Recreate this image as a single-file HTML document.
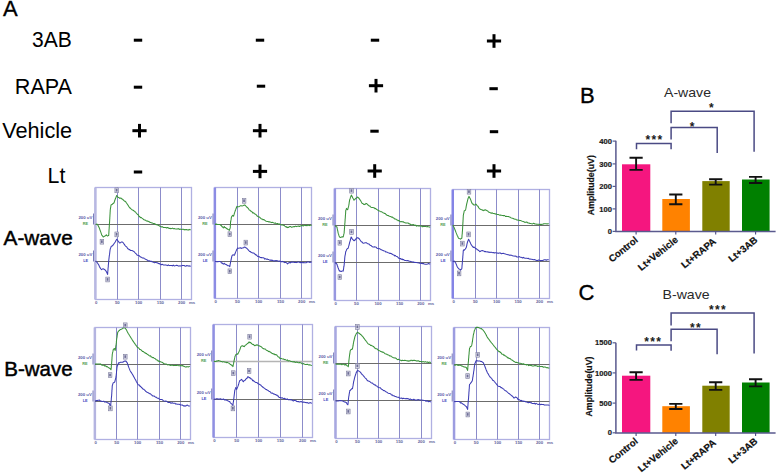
<!DOCTYPE html>
<html><head><meta charset="utf-8"><style>
html,body{margin:0;padding:0;background:#fff;}
svg{display:block;font-family:"Liberation Sans", sans-serif;}
</style></head><body>
<svg width="778" height="474" viewBox="0 0 778 474">
<rect width="778" height="474" fill="#fff"/>
<text x="3.0" y="16.2" font-size="22" stroke="#000" stroke-width="0.35">A</text>
<text x="71.8" y="46.75" font-size="22.6" text-anchor="end" textLength="39.8" lengthAdjust="spacingAndGlyphs">3AB</text>
<text x="72" y="94.2" font-size="22" text-anchor="end" textLength="57.2" lengthAdjust="spacingAndGlyphs">RAPA</text>
<text x="72.2" y="137.6" font-size="22" text-anchor="end" textLength="70" lengthAdjust="spacingAndGlyphs">Vehicle</text>
<text x="65.4" y="182.8" font-size="22" text-anchor="end" textLength="17.8" lengthAdjust="spacingAndGlyphs">Lt</text>
<text x="3.6" y="245.0" font-size="19.8" stroke="#000" stroke-width="0.45" textLength="69.2" lengthAdjust="spacingAndGlyphs">A-wave</text>
<text x="4.3" y="375.6" font-size="19.8" stroke="#000" stroke-width="0.45" textLength="68.4" lengthAdjust="spacingAndGlyphs">B-wave</text>
<rect x="133.80" y="38.70" width="8.4" height="3" fill="#000"/>
<rect x="255.80" y="38.70" width="8.4" height="3" fill="#000"/>
<rect x="370.80" y="38.70" width="8.4" height="3" fill="#000"/>
<rect x="133.80" y="85.70" width="8.4" height="3" fill="#000"/>
<rect x="256.80" y="84.70" width="8.4" height="3" fill="#000"/>
<rect x="489.40" y="87.20" width="8.4" height="3" fill="#000"/>
<rect x="370.30" y="129.70" width="8.4" height="3" fill="#000"/>
<rect x="489.80" y="130.20" width="8.4" height="3" fill="#000"/>
<rect x="133.80" y="170.50" width="8.4" height="3" fill="#000"/>
<rect x="486.90" y="39.50" width="14.2" height="3.0" fill="#000"/><rect x="492.50" y="34.20" width="3.0" height="13.6" fill="#000"/>
<rect x="368.90" y="84.20" width="14.2" height="3.0" fill="#000"/><rect x="374.50" y="78.90" width="3.0" height="13.6" fill="#000"/>
<rect x="132.40" y="129.20" width="14.2" height="3.0" fill="#000"/><rect x="138.00" y="123.90" width="3.0" height="13.6" fill="#000"/>
<rect x="252.90" y="129.20" width="14.2" height="3.0" fill="#000"/><rect x="258.50" y="123.90" width="3.0" height="13.6" fill="#000"/>
<rect x="252.90" y="169.90" width="14.2" height="3.0" fill="#000"/><rect x="258.50" y="164.60" width="3.0" height="13.6" fill="#000"/>
<rect x="367.60" y="169.50" width="14.2" height="3.0" fill="#000"/><rect x="373.20" y="164.20" width="3.0" height="13.6" fill="#000"/>
<rect x="486.90" y="169.50" width="14.2" height="3.0" fill="#000"/><rect x="492.50" y="164.20" width="3.0" height="13.6" fill="#000"/>
<rect x="95.5" y="187.5" width="96.0" height="112.0" fill="none" stroke="#b0b0e2" stroke-width="1.3"/>
<rect x="94.1" y="187.5" width="2.5" height="112.0" fill="#b8b8e2"/>
<line x1="117.5" y1="187.5" x2="117.5" y2="299.5" stroke="#8c8cca" stroke-width="1.0"/>
<line x1="138.5" y1="187.5" x2="138.5" y2="299.5" stroke="#8c8cca" stroke-width="1.0"/>
<line x1="160.5" y1="187.5" x2="160.5" y2="299.5" stroke="#8c8cca" stroke-width="1.0"/>
<line x1="181.5" y1="187.5" x2="181.5" y2="299.5" stroke="#8c8cca" stroke-width="1.0"/>
<line x1="95.5" y1="224.5" x2="191.5" y2="224.5" stroke="#6c6c6c" stroke-width="1"/>
<path d="M93.5,224.5 V213.5" stroke="#5a5aa8" stroke-width="0.8" fill="none"/>
<text x="92.3" y="219.1" font-size="4.3" font-weight="bold" fill="#5a5aa8" text-anchor="end">200 uV</text>
<line x1="95.5" y1="261.5" x2="191.5" y2="261.5" stroke="#6c6c6c" stroke-width="1"/>
<path d="M93.5,261.5 V250.5" stroke="#5a5aa8" stroke-width="0.8" fill="none"/>
<text x="92.3" y="256.1" font-size="4.3" font-weight="bold" fill="#5a5aa8" text-anchor="end">200 uV</text>
<text x="88.2" y="225.0" font-size="3.9" font-weight="bold" fill="#52a052" text-anchor="end">RE</text>
<text x="88.2" y="262.0" font-size="3.9" font-weight="bold" fill="#4848c0" text-anchor="end">LE</text>
<polyline points="95.8,224.0 96.4,224.3 97.1,224.2 97.7,224.9 98.1,225.6 98.5,226.4 98.8,227.1 99.2,227.8 99.5,228.6 99.8,229.3 100.0,230.1 100.3,230.8 100.6,231.6 100.9,232.4 101.1,233.1 101.4,233.9 101.6,234.6 101.9,235.4 102.5,235.7 103.0,236.7 103.6,236.9 104.3,236.3 104.9,236.0 105.4,235.7 105.8,235.5 106.3,234.8 106.9,235.6 107.6,236.0 108.2,235.6 108.7,235.4 108.8,234.5 108.8,233.6 108.9,232.7 108.9,231.9 109.0,231.0 109.0,230.1 109.1,229.2 109.2,228.3 109.2,227.4 109.3,226.5 109.3,225.7 109.4,224.8 109.4,223.9 109.5,223.0 109.6,222.1 109.6,221.2 109.7,220.3 109.7,219.5 109.8,218.6 109.8,217.7 109.9,216.8 109.9,215.9 110.0,215.0 110.0,214.1 110.1,213.2 110.1,212.4 110.2,211.5 110.2,210.6 110.3,209.7 110.4,208.9 110.5,208.1 110.7,207.3 110.8,206.6 110.9,205.8 111.0,205.0 111.5,204.8 112.0,204.6 112.5,204.0 113.2,203.4 113.9,203.1 114.2,202.3 114.4,201.6 114.7,200.8 114.9,200.1 115.2,199.3 115.5,198.5 115.8,197.8 116.1,197.0 116.4,196.3 116.7,195.5 117.2,196.1 117.7,196.8 118.2,197.4 118.9,197.5 119.6,198.3 120.2,198.0 120.9,198.3 121.5,198.3 122.1,199.3 122.8,199.2 123.4,200.2 124.0,200.7 124.7,201.3 125.3,201.2 125.8,201.9 126.2,202.6 126.7,203.3 127.2,204.0 127.7,204.7 128.2,205.4 128.6,206.2 129.1,206.9 129.7,207.7 130.4,208.2 131.0,208.8 131.7,209.4 132.4,210.1 133.1,210.2 133.8,210.7 134.4,211.3 135.0,211.8 135.5,212.0 136.1,212.8 136.7,213.5 137.3,214.3 137.8,214.5 138.4,215.0 138.9,216.2 139.5,216.4 140.1,217.3 140.8,217.8 141.4,217.6 142.0,218.1 142.7,218.6 143.3,219.2 144.1,219.7 144.8,219.9 145.6,220.2 146.3,221.0 147.1,221.1 147.9,221.1 148.7,221.5 149.5,222.0 150.3,222.5 151.1,222.6 151.9,223.0 152.6,223.1 153.4,223.7 154.1,223.5 154.8,223.7 155.5,224.3 156.3,224.8 157.0,224.8 157.8,225.0 158.5,225.5 159.2,225.7 160.0,226.4 160.8,226.6 161.7,227.0 162.5,226.7 163.3,227.5 164.2,227.5 165.0,227.6 165.8,227.5 166.7,228.0 167.5,227.5 168.3,227.8 169.2,228.5 170.0,228.3 170.8,228.7 171.7,228.6 172.5,228.1 173.3,228.7 174.2,228.6 175.0,228.8 175.8,228.9 176.7,229.1 177.5,228.9 178.3,228.6 179.2,229.4 180.0,229.1 180.8,229.2 181.7,229.4 182.5,229.3 183.3,229.2 184.2,229.9 185.0,229.5 185.8,229.8 186.7,229.5 187.5,229.9 188.3,230.1 189.1,229.4 190.0,229.7 190.8,229.8" fill="none" stroke="#3a923a" stroke-width="1.05" stroke-linejoin="round"/>
<polyline points="95.5,261.0 96.2,261.6 96.8,262.0 97.3,262.7 97.8,263.4 98.2,264.1 98.7,264.8 99.0,265.5 99.3,266.2 99.7,267.0 100.0,267.7 100.5,268.3 101.0,269.0 101.5,269.6 102.2,269.1 103.0,268.7 103.7,268.9 104.4,269.6 105.1,269.9 105.7,270.6 106.1,271.2 106.4,271.9 106.8,272.5 107.1,273.1 107.3,273.8 107.6,274.4 107.7,273.5 107.7,272.6 107.8,271.7 107.9,270.8 108.0,269.9 108.0,269.0 108.1,268.1 108.2,267.3 108.3,266.4 108.3,265.5 108.4,264.6 108.5,263.7 108.6,262.8 108.6,261.9 108.7,261.0 108.8,260.1 108.9,259.2 109.0,258.4 109.1,257.5 109.2,256.6 109.3,255.7 109.5,254.9 109.6,254.0 109.7,253.1 109.8,252.2 109.9,251.4 110.0,250.5 110.1,249.6 110.3,248.9 110.5,248.2 110.8,247.5 111.0,246.8 111.5,246.2 112.0,246.1 112.5,245.8 113.0,245.2 113.4,244.5 113.9,243.9 114.3,243.3 114.8,242.6 115.2,242.0 115.6,241.3 116.0,240.6 116.3,239.9 116.7,239.2 117.2,239.8 117.7,240.5 118.2,241.1 118.7,241.7 119.1,242.4 119.6,243.0 120.2,242.9 120.9,242.4 121.5,242.0 122.1,242.1 122.8,242.3 123.4,243.0 123.9,243.7 124.3,244.4 124.8,245.1 125.3,245.8 125.9,246.4 126.6,246.8 127.2,247.7 127.8,248.7 128.5,248.9 129.1,249.6 129.8,249.6 130.5,250.5 131.2,250.5 131.9,250.6 132.6,250.7 133.4,251.2 134.1,251.6 134.8,252.5 135.4,253.1 135.9,253.6 136.5,254.0 137.0,255.0 137.6,255.3 138.4,255.5 139.1,255.6 139.9,256.5 140.6,257.0 141.4,257.2 142.2,257.9 142.9,257.9 143.7,258.0 144.4,258.6 145.2,259.1 146.0,259.4 146.7,259.8 147.5,260.2 148.2,260.8 149.0,261.0 149.8,260.8 150.5,261.4 151.3,261.3 152.0,261.8 152.8,262.0 153.6,262.2 154.5,262.7 155.3,262.5 156.2,262.5 157.0,262.9 157.8,262.8 158.5,263.6 159.2,263.5 160.0,264.2 160.8,264.2 161.7,264.8 162.5,264.3 163.3,264.9 164.2,265.1 165.0,265.0 165.8,264.9 166.7,265.3 167.5,265.6 168.3,264.8 169.2,265.6 170.0,265.4 170.8,265.4 171.7,265.5 172.5,265.9 173.3,265.1 174.2,266.0 175.0,265.8 175.8,265.6 176.7,265.3 177.5,265.4 178.3,266.1 179.2,265.9 180.0,265.8 180.8,265.9 181.7,265.7 182.5,265.4 183.3,265.6 184.2,265.5 185.0,266.1 185.8,266.3 186.6,265.5 187.5,265.8 188.3,266.1 189.1,265.7 190.0,266.2 190.8,266.0" fill="none" stroke="#3c3cb4" stroke-width="1.05" stroke-linejoin="round"/>
<rect x="100.1" y="239.3" width="3.6" height="4.8" fill="#d6d6e6" stroke="#7c7c9c" stroke-width="0.6"/>
<rect x="101.0" y="240.3" width="1.7" height="2.6" fill="#6e6e96"/>
<rect x="114.9" y="187.9" width="3.6" height="4.8" fill="#d6d6e6" stroke="#7c7c9c" stroke-width="0.6"/>
<rect x="115.8" y="188.9" width="1.7" height="2.6" fill="#6e6e96"/>
<rect x="105.8" y="277.1" width="3.6" height="4.8" fill="#d6d6e6" stroke="#7c7c9c" stroke-width="0.6"/>
<rect x="106.7" y="278.1" width="1.7" height="2.6" fill="#6e6e96"/>
<rect x="114.9" y="232.0" width="3.6" height="4.8" fill="#d6d6e6" stroke="#7c7c9c" stroke-width="0.6"/>
<rect x="115.8" y="233.0" width="1.7" height="2.6" fill="#6e6e96"/>
<text x="96.3" y="303.9" font-size="4.3" font-weight="bold" fill="#62629a" text-anchor="middle">0</text>
<text x="117.3" y="303.9" font-size="4.3" font-weight="bold" fill="#62629a" text-anchor="middle">50</text>
<text x="138.6" y="303.9" font-size="4.3" font-weight="bold" fill="#62629a" text-anchor="middle">100</text>
<text x="160.4" y="303.9" font-size="4.3" font-weight="bold" fill="#62629a" text-anchor="middle">150</text>
<text x="181.6" y="303.9" font-size="4.3" font-weight="bold" fill="#62629a" text-anchor="middle">200</text>
<text x="192.0" y="303.9" font-size="4.3" font-weight="bold" fill="#62629a" text-anchor="middle">ms</text>
<rect x="215.0" y="187.5" width="96.5" height="111.0" fill="none" stroke="#b0b0e2" stroke-width="1.3"/>
<rect x="213.6" y="187.5" width="2.5" height="111.0" fill="#8c8ce4"/>
<line x1="237.5" y1="187.5" x2="237.5" y2="298.5" stroke="#8c8cca" stroke-width="1.0"/>
<line x1="258.5" y1="187.5" x2="258.5" y2="298.5" stroke="#8c8cca" stroke-width="1.0"/>
<line x1="280.5" y1="187.5" x2="280.5" y2="298.5" stroke="#8c8cca" stroke-width="1.0"/>
<line x1="301.5" y1="187.5" x2="301.5" y2="298.5" stroke="#8c8cca" stroke-width="1.0"/>
<line x1="215.0" y1="224.5" x2="311.5" y2="224.5" stroke="#6c6c6c" stroke-width="1"/>
<path d="M213.0,224.5 V213.5" stroke="#5a5aa8" stroke-width="0.8" fill="none"/>
<text x="211.8" y="219.1" font-size="4.3" font-weight="bold" fill="#5a5aa8" text-anchor="end">200 uV</text>
<line x1="215.0" y1="261.5" x2="311.5" y2="261.5" stroke="#6c6c6c" stroke-width="1"/>
<path d="M213.0,261.5 V250.5" stroke="#5a5aa8" stroke-width="0.8" fill="none"/>
<text x="211.8" y="256.1" font-size="4.3" font-weight="bold" fill="#5a5aa8" text-anchor="end">200 uV</text>
<text x="207.7" y="224.9" font-size="3.9" font-weight="bold" fill="#52a052" text-anchor="end">RE</text>
<text x="207.7" y="262.1" font-size="3.9" font-weight="bold" fill="#4848c0" text-anchor="end">LE</text>
<polyline points="215.0,224.4 215.8,224.1 216.7,224.1 217.5,224.5 218.3,224.5 219.2,224.4 220.0,224.5 220.6,225.3 221.1,225.3 221.7,226.1 222.3,227.0 222.8,226.9 223.4,227.9 223.9,227.2 224.3,226.6 224.9,227.6 225.6,227.6 226.2,228.1 226.8,228.8 227.4,228.8 228.1,229.6 228.7,229.7 229.3,230.4 229.6,229.6 229.9,228.7 230.2,227.9 230.3,227.1 230.3,226.2 230.4,225.4 230.4,224.5 230.5,223.7 230.5,222.8 230.6,222.0 230.8,221.2 230.9,220.3 231.1,219.4 231.2,218.6 231.3,217.8 231.5,216.9 231.9,216.4 232.3,215.8 232.7,215.3 233.1,215.6 233.6,216.1 233.8,215.3 234.1,214.4 234.3,213.6 234.6,212.7 234.8,211.9 235.1,211.2 235.3,210.5 235.6,209.9 235.8,209.2 236.1,208.5 236.4,207.8 236.6,207.1 236.9,206.4 237.8,206.8 238.6,206.7 239.5,206.4 240.3,205.8 241.2,205.8 242.0,206.0 242.7,205.8 243.4,205.5 244.1,205.1 244.7,205.1 245.2,205.3 245.8,206.0 246.4,206.7 247.0,207.3 247.6,207.7 248.2,208.3 248.8,209.3 249.4,210.1 250.1,210.3 250.7,211.0 251.3,211.5 252.0,211.8 252.7,212.9 253.3,212.8 254.0,213.2 254.7,214.0 255.3,214.1 256.0,214.6 256.6,215.2 257.2,216.1 257.9,216.4 258.5,216.9 259.3,216.9 260.0,217.6 260.8,218.4 261.5,219.0 262.3,219.0 263.0,219.8 263.6,219.6 264.3,219.8 264.9,220.3 265.6,220.9 266.4,221.2 267.2,221.4 268.1,221.6 268.9,221.9 269.7,221.7 270.5,222.1 271.3,222.6 272.1,222.2 272.9,222.4 273.6,222.9 274.4,223.3 275.2,222.9 276.0,223.5 276.8,223.8 277.6,223.5 278.5,224.2 279.3,223.9 280.1,224.5 280.9,224.7 281.7,225.0 282.6,224.7 283.4,225.2 284.2,225.5 284.9,226.1 285.6,226.6 286.2,227.2 286.9,226.8 287.6,227.6 288.3,227.5 289.0,226.9 289.9,226.5 290.7,226.6 291.5,227.3 292.4,226.9 293.2,226.7 294.0,226.6 294.8,226.6 295.5,226.1 296.3,226.6 297.1,226.2 297.9,226.2 298.7,226.0 299.5,226.5 300.4,226.0 301.2,225.6 302.0,225.8 302.8,225.6 303.6,225.9 304.5,225.1 305.3,225.6 306.1,225.3 306.9,225.8 307.7,225.1 308.5,225.2 309.2,225.6 310.0,225.2 310.8,225.2 311.6,225.5" fill="none" stroke="#3a923a" stroke-width="1.05" stroke-linejoin="round"/>
<polyline points="215.0,261.4 215.8,261.6 216.7,261.7 217.6,261.6 218.4,261.6 219.2,261.4 220.1,261.6 220.8,261.7 221.4,262.9 222.1,263.0 222.7,263.5 223.4,264.1 223.9,263.9 224.3,263.3 224.9,264.0 225.6,264.4 226.2,264.4 226.8,265.0 227.6,265.7 228.3,265.7 229.1,265.8 229.8,266.6 229.9,265.8 230.1,265.1 230.2,264.3 230.3,263.5 230.5,262.8 230.6,262.0 230.8,261.2 231.0,260.3 231.2,259.5 231.3,258.6 231.5,257.8 231.7,256.9 231.9,256.1 232.5,255.1 233.1,254.8 233.8,255.1 234.4,255.3 234.7,254.6 234.9,253.9 235.2,253.3 235.4,252.6 235.7,251.9 236.0,251.1 236.4,250.4 236.7,249.6 237.1,248.9 237.4,248.1 238.1,248.3 238.8,248.3 239.5,248.1 240.3,247.7 241.2,248.4 242.0,248.1 242.8,247.9 243.5,247.8 244.2,247.0 245.0,247.2 245.5,247.2 246.1,248.0 246.6,248.1 247.1,248.7 247.6,249.2 248.1,249.7 248.6,250.4 249.1,250.8 249.6,251.5 250.2,251.5 250.8,252.0 251.5,252.6 252.1,252.7 252.8,253.0 253.5,253.0 254.1,253.3 254.8,254.1 255.5,254.4 256.1,255.1 256.7,255.1 257.3,256.1 257.9,256.5 258.5,256.5 259.3,256.7 260.0,257.2 260.8,257.6 261.5,257.6 262.3,257.8 263.1,257.7 264.0,258.0 264.8,259.1 265.7,258.6 266.5,259.3 267.3,259.1 268.0,259.4 268.8,259.6 269.5,260.0 270.3,260.4 271.0,259.9 271.8,260.5 272.6,260.2 273.5,260.9 274.3,261.1 275.1,260.5 276.0,260.9 276.8,260.5 277.6,260.9 278.4,261.3 279.3,261.0 280.1,261.2 280.9,261.5 281.6,261.9 282.4,261.4 283.2,262.0 284.0,261.7 284.7,262.6 285.5,262.5 286.2,262.6 286.9,263.2 287.6,263.9 288.3,263.1 289.0,262.8 289.7,262.5 290.5,262.9 291.2,262.1 292.0,262.1 292.8,262.3 293.6,262.1 294.3,262.4 295.1,262.3 296.0,262.5 296.8,262.6 297.7,262.0 298.6,262.1 299.4,262.3 300.3,262.8 301.1,262.2 302.0,262.5 302.9,262.8 303.7,262.6 304.6,262.8 305.5,262.7 306.4,262.7 307.2,262.0 308.1,262.0 309.0,262.1 309.9,262.5 310.7,262.1 311.6,262.3" fill="none" stroke="#3c3cb4" stroke-width="1.05" stroke-linejoin="round"/>
<rect x="228.0" y="231.8" width="3.6" height="4.8" fill="#d6d6e6" stroke="#7c7c9c" stroke-width="0.6"/>
<rect x="228.9" y="232.8" width="1.7" height="2.6" fill="#6e6e96"/>
<rect x="242.3" y="198.4" width="3.6" height="4.8" fill="#d6d6e6" stroke="#7c7c9c" stroke-width="0.6"/>
<rect x="243.2" y="199.4" width="1.7" height="2.6" fill="#6e6e96"/>
<rect x="228.0" y="268.9" width="3.6" height="4.8" fill="#d6d6e6" stroke="#7c7c9c" stroke-width="0.6"/>
<rect x="228.9" y="269.9" width="1.7" height="2.6" fill="#6e6e96"/>
<rect x="244.0" y="240.2" width="3.6" height="4.8" fill="#d6d6e6" stroke="#7c7c9c" stroke-width="0.6"/>
<rect x="244.9" y="241.2" width="1.7" height="2.6" fill="#6e6e96"/>
<text x="215.8" y="302.9" font-size="4.3" font-weight="bold" fill="#62629a" text-anchor="middle">0</text>
<text x="237.4" y="302.9" font-size="4.3" font-weight="bold" fill="#62629a" text-anchor="middle">50</text>
<text x="258.6" y="302.9" font-size="4.3" font-weight="bold" fill="#62629a" text-anchor="middle">100</text>
<text x="280.5" y="302.9" font-size="4.3" font-weight="bold" fill="#62629a" text-anchor="middle">150</text>
<text x="301.7" y="302.9" font-size="4.3" font-weight="bold" fill="#62629a" text-anchor="middle">200</text>
<text x="312.0" y="302.9" font-size="4.3" font-weight="bold" fill="#62629a" text-anchor="middle">ms</text>
<rect x="335.0" y="188.5" width="95.5" height="112.0" fill="none" stroke="#b0b0e2" stroke-width="1.3"/>
<rect x="333.6" y="188.5" width="2.5" height="112.0" fill="#9898e0"/>
<line x1="356.5" y1="188.5" x2="356.5" y2="300.5" stroke="#8c8cca" stroke-width="1.0"/>
<line x1="378.5" y1="188.5" x2="378.5" y2="300.5" stroke="#8c8cca" stroke-width="1.0"/>
<line x1="399.5" y1="188.5" x2="399.5" y2="300.5" stroke="#8c8cca" stroke-width="1.0"/>
<line x1="420.5" y1="188.5" x2="420.5" y2="300.5" stroke="#8c8cca" stroke-width="1.0"/>
<line x1="335.0" y1="225.5" x2="430.5" y2="225.5" stroke="#6c6c6c" stroke-width="1"/>
<path d="M333.0,225.5 V214.5" stroke="#5a5aa8" stroke-width="0.8" fill="none"/>
<text x="331.8" y="220.1" font-size="4.3" font-weight="bold" fill="#5a5aa8" text-anchor="end">200 uV</text>
<line x1="335.0" y1="262.5" x2="430.5" y2="262.5" stroke="#6c6c6c" stroke-width="1"/>
<path d="M333.0,262.5 V251.5" stroke="#5a5aa8" stroke-width="0.8" fill="none"/>
<text x="331.8" y="257.1" font-size="4.3" font-weight="bold" fill="#5a5aa8" text-anchor="end">200 uV</text>
<text x="327.7" y="226.0" font-size="3.9" font-weight="bold" fill="#52a052" text-anchor="end">RE</text>
<text x="327.7" y="263.1" font-size="3.9" font-weight="bold" fill="#4848c0" text-anchor="end">LE</text>
<polyline points="335.0,225.5 335.6,226.1 336.3,226.8 336.9,226.8 337.1,227.6 337.2,228.4 337.4,229.2 337.5,229.9 337.7,230.7 337.9,231.5 338.0,232.3 338.2,233.1 338.4,233.9 338.7,234.6 338.9,235.4 339.2,236.1 339.4,236.9 340.0,237.3 340.7,237.5 341.5,236.9 342.4,236.7 343.2,236.9 343.4,236.1 343.6,235.4 343.7,234.6 343.9,233.9 344.1,233.1 344.2,232.3 344.2,231.4 344.3,230.6 344.4,229.7 344.4,228.9 344.5,228.1 344.6,227.2 344.6,226.4 344.7,225.5 344.8,224.7 344.8,223.8 344.9,223.0 345.0,222.2 345.0,221.3 345.1,220.5 345.1,219.6 345.2,218.8 345.3,217.9 345.3,217.1 345.4,216.2 345.4,215.4 345.5,214.5 345.6,213.7 345.6,212.8 345.7,212.0 345.7,211.1 345.8,210.3 346.1,209.7 346.3,209.0 346.6,208.4 347.1,209.4 347.7,209.7 347.9,208.9 348.1,208.2 348.3,207.4 348.5,206.7 348.7,205.9 348.8,205.1 349.0,204.3 349.1,203.5 349.2,202.6 349.3,201.8 349.5,201.0 349.6,200.2 349.8,199.4 350.1,198.7 350.3,197.9 350.6,197.2 350.8,196.4 351.1,195.8 351.5,195.1 351.8,195.8 352.1,196.4 352.4,197.0 352.7,197.7 353.0,198.3 353.4,198.9 353.7,199.6 354.0,200.2 354.4,199.6 354.9,199.3 355.3,198.9 355.9,198.3 356.4,198.0 356.9,197.7 357.5,197.0 358.0,197.4 358.5,198.0 359.0,198.3 359.4,198.9 359.9,199.6 360.3,200.2 360.7,200.8 361.1,201.5 361.4,202.1 361.8,202.8 362.2,203.4 362.8,203.4 363.5,204.3 364.1,204.6 364.7,204.2 365.4,204.2 366.0,203.4 366.6,203.6 367.2,204.2 367.9,205.0 368.5,205.3 369.1,205.9 369.8,205.9 370.5,206.9 371.1,207.2 371.9,207.5 372.8,207.5 373.6,207.8 374.2,207.7 374.9,208.6 375.5,208.4 376.1,209.1 376.8,209.4 377.4,209.9 378.0,210.3 378.7,210.8 379.5,210.9 380.2,211.4 380.9,211.8 381.6,211.7 382.4,212.4 383.1,212.8 383.8,213.0 384.6,213.5 385.3,213.5 386.0,214.5 386.7,215.1 387.5,215.4 388.2,215.4 388.9,216.0 389.6,216.2 390.3,216.4 391.1,216.7 391.8,217.3 392.5,217.1 393.2,217.9 393.9,218.0 394.6,218.9 395.3,218.9 396.0,219.2 396.8,220.0 397.5,220.0 398.2,220.8 398.9,220.4 399.6,221.2 400.4,221.7 401.2,221.7 401.9,221.5 402.7,221.9 403.5,221.8 404.3,222.6 405.0,222.7 405.8,223.0 406.6,223.1 407.4,223.0 408.3,223.1 409.1,223.9 409.9,223.8 410.7,224.7 411.6,224.7 412.4,224.8 413.2,224.5 414.1,224.9 414.9,225.5 415.7,225.1 416.5,226.1 417.4,225.6 418.2,226.0 419.0,226.0 419.9,226.1 420.7,226.0 421.5,225.9 422.3,226.8 423.2,226.4 424.0,226.6 424.9,226.5 425.8,226.6 426.7,226.7 427.5,226.6 428.4,226.8 429.3,226.9 430.2,227.2" fill="none" stroke="#3a923a" stroke-width="1.05" stroke-linejoin="round"/>
<polyline points="335.0,262.3 335.6,263.3 336.3,263.2 336.9,264.2 337.2,265.0 337.4,265.7 337.7,266.5 337.9,267.2 338.2,268.0 338.5,268.8 338.8,269.6 339.1,270.3 339.4,271.1 340.0,270.8 340.7,271.5 341.3,271.5 341.9,271.1 342.6,271.0 343.2,271.1 343.3,270.3 343.5,269.5 343.6,268.7 343.7,267.8 343.8,267.0 344.0,266.2 344.1,265.4 344.2,264.5 344.3,263.6 344.3,262.8 344.4,261.9 344.5,261.0 344.6,260.1 344.7,259.2 344.7,258.4 344.8,257.5 344.9,256.6 345.0,255.8 345.2,254.9 345.4,254.1 345.5,253.2 345.6,252.3 345.8,251.5 346.1,250.9 346.4,250.2 346.7,249.6 347.0,249.0 347.4,248.6 347.9,248.5 348.3,247.7 348.5,246.9 348.7,246.0 349.0,245.2 349.2,244.4 349.4,243.5 349.6,242.7 349.8,241.9 350.1,241.1 350.3,240.3 350.5,239.4 350.7,238.6 351.0,237.8 351.2,237.0 351.6,237.6 351.9,238.2 352.3,238.9 352.7,239.5 353.2,239.8 353.7,240.5 354.2,240.8 354.8,239.9 355.3,239.9 355.9,238.9 356.5,238.1 357.2,237.9 357.8,237.6 358.4,238.3 359.1,238.6 359.7,239.5 360.2,240.1 360.6,240.8 361.1,241.4 361.6,242.0 362.2,242.0 362.9,243.1 363.5,243.3 364.3,243.1 365.2,242.8 366.0,242.7 366.6,242.8 367.2,243.5 367.9,243.7 368.5,243.9 369.1,244.0 369.8,245.0 370.4,245.4 371.1,245.5 371.7,246.2 372.5,246.7 373.2,247.0 374.0,247.1 374.7,246.8 375.5,247.1 376.3,247.3 377.1,248.3 377.9,248.5 378.7,248.7 379.4,248.6 380.2,249.0 380.9,249.7 381.6,249.8 382.4,250.3 383.1,250.5 383.8,250.9 384.6,251.1 385.3,251.2 386.0,252.1 386.7,252.0 387.5,252.4 388.2,252.8 389.0,252.9 389.9,253.5 390.7,253.3 391.5,253.7 392.4,254.3 393.2,254.7 393.9,254.9 394.6,255.9 395.3,255.5 396.0,256.1 396.8,256.6 397.5,256.8 398.2,257.8 398.9,258.2 399.6,258.4 400.4,258.4 401.2,259.4 402.0,258.9 402.7,259.7 403.5,259.5 404.3,260.2 405.1,260.5 405.9,260.5 406.7,260.7 407.5,260.6 408.4,260.7 409.2,261.2 410.0,261.2 410.8,261.6 411.6,261.7 412.4,261.9 413.2,261.8 414.0,262.5 414.8,262.3 415.6,262.5 416.4,262.6 417.3,262.8 418.1,262.8 418.9,263.0 419.7,263.3 420.5,263.1 421.3,263.5 422.0,263.3 422.8,263.7 423.6,263.5 424.3,264.1 425.1,264.2 426.0,264.3 426.8,264.2 427.6,264.0 428.5,263.6 429.4,263.9 430.2,263.7" fill="none" stroke="#3c3cb4" stroke-width="1.05" stroke-linejoin="round"/>
<rect x="338.0" y="240.3" width="3.6" height="4.8" fill="#d6d6e6" stroke="#7c7c9c" stroke-width="0.6"/>
<rect x="338.9" y="241.3" width="1.7" height="2.6" fill="#6e6e96"/>
<rect x="349.7" y="188.3" width="3.6" height="4.8" fill="#d6d6e6" stroke="#7c7c9c" stroke-width="0.6"/>
<rect x="350.6" y="189.3" width="1.7" height="2.6" fill="#6e6e96"/>
<rect x="338.0" y="274.7" width="3.6" height="4.8" fill="#d6d6e6" stroke="#7c7c9c" stroke-width="0.6"/>
<rect x="338.9" y="275.7" width="1.7" height="2.6" fill="#6e6e96"/>
<rect x="349.7" y="229.5" width="3.6" height="4.8" fill="#d6d6e6" stroke="#7c7c9c" stroke-width="0.6"/>
<rect x="350.6" y="230.5" width="1.7" height="2.6" fill="#6e6e96"/>
<text x="335.8" y="304.9" font-size="4.3" font-weight="bold" fill="#62629a" text-anchor="middle">0</text>
<text x="356.5" y="304.9" font-size="4.3" font-weight="bold" fill="#62629a" text-anchor="middle">50</text>
<text x="378.0" y="304.9" font-size="4.3" font-weight="bold" fill="#62629a" text-anchor="middle">100</text>
<text x="399.6" y="304.9" font-size="4.3" font-weight="bold" fill="#62629a" text-anchor="middle">150</text>
<text x="420.8" y="304.9" font-size="4.3" font-weight="bold" fill="#62629a" text-anchor="middle">200</text>
<text x="431.0" y="304.9" font-size="4.3" font-weight="bold" fill="#62629a" text-anchor="middle">ms</text>
<rect x="452.9" y="189.5" width="96.6" height="109.0" fill="none" stroke="#b0b0e2" stroke-width="1.3"/>
<rect x="451.5" y="189.5" width="2.5" height="109.0" fill="#8484e6"/>
<line x1="475.5" y1="189.5" x2="475.5" y2="298.5" stroke="#8c8cca" stroke-width="1.0"/>
<line x1="496.5" y1="189.5" x2="496.5" y2="298.5" stroke="#8c8cca" stroke-width="1.0"/>
<line x1="518.5" y1="189.5" x2="518.5" y2="298.5" stroke="#8c8cca" stroke-width="1.0"/>
<line x1="539.5" y1="189.5" x2="539.5" y2="298.5" stroke="#8c8cca" stroke-width="1.0"/>
<line x1="452.9" y1="225.5" x2="549.5" y2="225.5" stroke="#6c6c6c" stroke-width="1"/>
<path d="M450.9,225.5 V214.5" stroke="#5a5aa8" stroke-width="0.8" fill="none"/>
<text x="449.7" y="220.1" font-size="4.3" font-weight="bold" fill="#5a5aa8" text-anchor="end">200 uV</text>
<line x1="452.9" y1="261.5" x2="549.5" y2="261.5" stroke="#6c6c6c" stroke-width="1"/>
<path d="M450.9,261.5 V250.5" stroke="#5a5aa8" stroke-width="0.8" fill="none"/>
<text x="449.7" y="256.1" font-size="4.3" font-weight="bold" fill="#5a5aa8" text-anchor="end">200 uV</text>
<text x="445.6" y="225.9" font-size="3.9" font-weight="bold" fill="#52a052" text-anchor="end">RE</text>
<text x="445.6" y="262.2" font-size="3.9" font-weight="bold" fill="#4848c0" text-anchor="end">LE</text>
<polyline points="452.9,224.9 453.2,225.6 453.5,226.4 453.9,227.1 454.2,227.8 454.5,228.6 454.8,229.3 455.1,230.1 455.4,230.8 455.7,231.6 456.0,232.4 456.3,233.1 456.6,233.9 456.9,234.6 457.2,235.4 457.6,236.1 457.9,236.8 458.2,237.5 458.6,238.2 459.2,238.5 459.9,238.7 460.5,239.2 461.1,238.6 461.8,238.2 461.9,237.4 462.0,236.5 462.0,235.7 462.1,234.8 462.2,234.0 462.3,233.1 462.3,232.3 462.4,231.4 462.5,230.6 462.5,229.7 462.6,228.8 462.6,227.9 462.7,227.0 462.7,226.1 462.8,225.2 462.8,224.3 462.9,223.4 462.9,222.6 463.0,221.7 463.0,220.8 463.1,219.9 463.1,219.0 463.2,218.1 463.2,217.2 463.3,216.3 463.3,215.4 463.5,214.6 463.6,213.8 463.8,213.1 464.0,212.3 464.1,211.5 464.3,210.7 465.0,210.6 465.6,209.7 465.8,208.9 465.9,208.1 466.1,207.3 466.2,206.4 466.4,205.6 466.5,204.8 466.7,204.0 466.9,203.2 467.1,202.4 467.3,201.6 467.5,200.7 467.7,199.9 467.9,199.1 468.1,198.3 468.4,197.7 468.7,197.0 469.0,196.4 469.4,197.1 469.8,197.9 470.1,198.6 470.5,199.3 470.8,200.1 471.1,200.8 471.3,201.6 471.6,202.3 471.9,203.1 472.5,204.1 473.2,204.0 473.8,205.0 474.4,205.1 475.1,204.6 475.7,204.0 476.3,204.4 477.0,205.6 477.6,205.9 478.1,206.6 478.6,207.4 479.0,208.1 479.5,208.8 480.1,209.1 480.8,209.4 481.4,209.7 482.0,209.7 482.7,210.4 483.3,210.7 483.9,210.1 484.6,210.3 485.2,209.7 485.8,209.9 486.5,210.6 487.1,210.7 487.8,211.0 488.5,212.0 489.2,212.2 489.9,212.6 490.7,212.9 491.4,213.3 492.2,212.8 492.9,213.4 493.7,213.5 494.5,213.6 495.2,214.1 496.0,213.8 496.7,214.2 497.5,214.5 498.3,214.5 499.1,214.9 499.9,215.3 500.7,215.1 501.5,215.3 502.3,215.4 503.1,215.6 503.9,215.6 504.6,215.5 505.4,216.5 506.2,216.3 507.0,216.4 507.8,216.4 508.5,216.6 509.3,216.9 510.0,217.1 510.8,217.7 511.6,218.0 512.5,218.2 513.3,218.5 514.2,219.1 515.0,219.2 515.8,219.2 516.6,220.0 517.4,220.1 518.2,220.3 519.0,220.1 519.8,220.6 520.6,220.5 521.4,220.9 522.2,221.3 523.1,221.4 523.9,221.7 524.8,222.4 525.6,222.2 526.5,222.0 527.3,222.3 528.1,223.1 529.0,223.0 529.9,223.4 530.7,223.4 531.6,223.7 532.5,223.9 533.3,223.3 534.2,223.4 535.0,224.1 535.9,224.0 536.8,224.3 537.6,224.2 538.5,224.3 539.4,224.4 540.3,224.2 541.1,224.6 542.0,224.3 542.9,224.2 543.7,223.8 544.5,223.8 545.4,223.8 546.2,223.7 547.1,224.0 547.9,223.7 548.8,223.8" fill="none" stroke="#3a923a" stroke-width="1.05" stroke-linejoin="round"/>
<polyline points="452.9,262.0 453.5,261.2 454.2,261.0 454.7,261.6 455.2,262.3 455.7,262.9 456.0,263.7 456.3,264.4 456.6,265.2 456.9,265.9 457.2,266.7 457.7,267.4 458.1,268.0 458.6,268.7 459.2,269.0 459.9,269.3 460.5,270.2 460.9,269.5 461.4,269.3 461.8,268.7 461.9,267.8 462.0,267.0 462.0,266.1 462.1,265.3 462.2,264.4 462.3,263.6 462.3,262.7 462.4,261.9 462.5,261.0 462.6,260.1 462.6,259.3 462.7,258.4 462.8,257.5 462.8,256.7 462.9,255.8 463.0,254.9 463.0,254.1 463.1,253.2 463.2,252.3 463.2,251.5 463.3,250.6 463.8,249.9 464.3,250.2 464.8,249.6 465.3,249.0 465.7,248.3 466.2,247.7 466.4,246.9 466.6,246.1 466.8,245.3 466.9,244.4 467.1,243.6 467.3,242.8 467.5,242.0 467.8,241.3 468.1,240.6 468.3,239.9 468.6,239.2 469.0,239.9 469.3,240.6 469.6,241.3 470.0,242.0 470.3,242.7 470.6,243.4 471.0,244.2 471.3,244.9 471.8,245.5 472.3,246.2 472.8,246.8 473.4,247.5 474.1,247.0 474.7,247.7 475.3,248.2 476.0,248.7 476.6,248.7 477.2,249.7 477.9,249.7 478.5,250.6 479.1,250.7 479.8,251.6 480.4,251.5 481.0,250.8 481.7,250.7 482.3,250.6 482.9,250.8 483.6,251.1 484.2,251.2 484.9,251.7 485.6,251.4 486.4,251.7 487.1,251.9 487.8,251.7 488.5,252.3 489.2,252.1 489.9,252.5 490.7,252.2 491.4,252.2 492.2,252.6 492.9,252.7 493.7,252.5 494.5,253.0 495.2,252.8 496.0,252.8 496.7,253.0 497.5,253.1 498.3,253.4 499.1,252.9 499.9,253.1 500.7,253.1 501.5,253.8 502.3,253.4 503.1,253.3 503.9,253.5 504.6,253.7 505.4,253.9 506.2,254.3 507.0,254.4 507.8,254.8 508.5,254.7 509.3,255.3 510.0,255.0 510.8,255.3 511.6,255.2 512.5,255.8 513.3,255.9 514.2,256.1 515.0,256.3 515.9,256.0 516.7,256.9 517.6,257.0 518.4,256.9 519.3,256.6 520.1,257.2 521.0,257.3 521.8,257.5 522.7,258.0 523.5,257.4 524.4,258.0 525.2,258.3 526.0,258.2 526.9,258.3 527.7,258.4 528.5,258.3 529.3,259.1 530.2,259.0 531.0,259.3 531.8,259.3 532.6,259.5 533.4,259.7 534.3,259.5 535.1,259.7 535.9,260.3 536.8,260.6 537.6,260.5 538.5,260.0 539.4,260.3 540.3,260.6 541.1,260.6 542.0,260.5 542.9,260.5 543.7,259.9 544.5,259.8 545.4,259.8 546.2,260.2 547.1,259.7 547.9,259.7 548.8,259.8" fill="none" stroke="#3c3cb4" stroke-width="1.05" stroke-linejoin="round"/>
<rect x="460.6" y="241.2" width="3.6" height="4.8" fill="#d6d6e6" stroke="#7c7c9c" stroke-width="0.6"/>
<rect x="461.5" y="242.2" width="1.7" height="2.6" fill="#6e6e96"/>
<rect x="467.2" y="189.3" width="3.6" height="4.8" fill="#d6d6e6" stroke="#7c7c9c" stroke-width="0.6"/>
<rect x="468.1" y="190.3" width="1.7" height="2.6" fill="#6e6e96"/>
<rect x="457.3" y="271.0" width="3.6" height="4.8" fill="#d6d6e6" stroke="#7c7c9c" stroke-width="0.6"/>
<rect x="458.2" y="272.0" width="1.7" height="2.6" fill="#6e6e96"/>
<rect x="466.8" y="232.0" width="3.6" height="4.8" fill="#d6d6e6" stroke="#7c7c9c" stroke-width="0.6"/>
<rect x="467.7" y="233.0" width="1.7" height="2.6" fill="#6e6e96"/>
<text x="453.7" y="302.9" font-size="4.3" font-weight="bold" fill="#62629a" text-anchor="middle">0</text>
<text x="475.3" y="302.9" font-size="4.3" font-weight="bold" fill="#62629a" text-anchor="middle">50</text>
<text x="496.6" y="302.9" font-size="4.3" font-weight="bold" fill="#62629a" text-anchor="middle">100</text>
<text x="518.1" y="302.9" font-size="4.3" font-weight="bold" fill="#62629a" text-anchor="middle">150</text>
<text x="539.5" y="302.9" font-size="4.3" font-weight="bold" fill="#62629a" text-anchor="middle">200</text>
<text x="550.0" y="302.9" font-size="4.3" font-weight="bold" fill="#62629a" text-anchor="middle">ms</text>
<rect x="95.0" y="327.5" width="95.5" height="112.0" fill="none" stroke="#b0b0e2" stroke-width="1.3"/>
<rect x="93.6" y="327.5" width="2.5" height="112.0" fill="#b4b4e0"/>
<line x1="116.5" y1="327.5" x2="116.5" y2="439.5" stroke="#8c8cca" stroke-width="1.0"/>
<line x1="137.5" y1="327.5" x2="137.5" y2="439.5" stroke="#8c8cca" stroke-width="1.0"/>
<line x1="159.5" y1="327.5" x2="159.5" y2="439.5" stroke="#8c8cca" stroke-width="1.0"/>
<line x1="180.5" y1="327.5" x2="180.5" y2="439.5" stroke="#8c8cca" stroke-width="1.0"/>
<line x1="95.0" y1="364.5" x2="190.5" y2="364.5" stroke="#6c6c6c" stroke-width="1"/>
<path d="M93.0,364.5 V353.5" stroke="#5a5aa8" stroke-width="0.8" fill="none"/>
<text x="91.8" y="359.1" font-size="4.3" font-weight="bold" fill="#5a5aa8" text-anchor="end">200 uV</text>
<line x1="95.0" y1="401.5" x2="190.5" y2="401.5" stroke="#6c6c6c" stroke-width="1"/>
<path d="M93.0,401.5 V390.5" stroke="#5a5aa8" stroke-width="0.8" fill="none"/>
<text x="91.8" y="396.1" font-size="4.3" font-weight="bold" fill="#5a5aa8" text-anchor="end">200 uV</text>
<text x="87.7" y="365.2" font-size="3.9" font-weight="bold" fill="#52a052" text-anchor="end">RE</text>
<text x="87.7" y="402.2" font-size="3.9" font-weight="bold" fill="#4848c0" text-anchor="end">LE</text>
<polyline points="95.0,364.1 95.8,364.1 96.5,363.9 97.3,364.1 98.1,363.9 98.8,363.9 99.6,364.1 100.4,363.9 101.1,364.5 101.9,365.2 102.6,365.2 103.4,365.2 104.2,365.3 104.9,366.1 105.7,365.7 106.4,366.6 107.2,366.6 107.9,367.2 108.7,367.6 109.4,368.3 110.1,368.5 110.5,369.1 111.0,369.8 111.1,368.9 111.2,368.1 111.3,367.2 111.3,366.3 111.4,365.4 111.5,364.6 111.6,363.7 111.7,362.8 111.7,362.0 111.8,361.1 111.9,360.2 111.9,359.4 112.0,358.5 112.0,357.7 112.1,356.8 112.2,355.9 112.2,355.1 112.3,354.2 112.5,353.4 112.6,352.6 112.8,351.9 113.0,351.1 113.1,350.3 113.3,349.5 113.8,349.0 114.4,348.5 114.7,349.1 114.9,349.8 115.2,350.4 115.3,349.6 115.5,348.8 115.6,348.0 115.7,347.1 115.8,346.3 116.0,345.5 116.1,344.7 116.2,343.9 116.3,343.1 116.4,342.3 116.4,341.4 116.5,340.6 116.6,339.8 116.7,339.0 116.8,338.2 117.0,337.4 117.1,336.5 117.2,335.7 117.3,334.9 117.5,334.0 117.6,333.2 117.7,332.4 118.1,331.8 118.6,331.1 119.0,330.5 119.5,330.4 120.0,329.7 120.5,329.5 121.1,329.3 121.8,329.0 122.4,328.6 123.2,327.9 123.9,327.9 124.7,327.6 125.2,328.2 125.7,328.9 126.2,329.5 126.6,330.3 127.0,331.0 127.3,331.8 127.7,332.5 128.1,333.3 128.6,334.0 129.1,334.8 129.5,335.5 130.0,336.2 130.4,336.9 130.8,337.5 131.2,338.2 131.7,338.9 132.1,339.6 132.5,340.2 132.9,340.9 133.4,341.6 133.8,342.2 134.3,342.9 134.8,343.6 135.2,344.2 135.7,344.9 136.2,345.6 136.7,346.3 137.1,346.9 137.6,347.6 138.3,347.7 139.0,348.3 139.7,349.5 140.3,349.5 141.0,349.9 141.7,350.5 142.4,351.4 143.1,351.6 143.7,351.8 144.4,352.8 145.1,352.7 145.8,353.5 146.4,353.4 147.1,354.2 147.8,354.6 148.5,355.0 149.2,355.6 149.8,356.0 150.5,355.8 151.2,356.9 151.9,357.1 152.6,357.7 153.4,357.5 154.1,358.1 154.8,358.5 155.5,358.8 156.3,359.8 157.0,360.0 157.6,360.3 158.2,361.2 158.9,360.9 159.5,361.6 160.3,361.6 161.1,362.1 161.9,362.2 162.8,362.7 163.6,363.5 164.4,363.8 165.2,364.0 166.0,363.9 166.8,364.4 167.6,364.9 168.5,364.7 169.3,364.8 170.1,365.4 170.9,365.2 171.7,365.3 172.5,365.1 173.3,365.6 174.2,365.5 175.0,365.5 175.8,365.3 176.6,365.5 177.4,365.1 178.2,365.5 179.0,365.8 179.9,365.8 180.7,365.6 181.5,365.7 182.3,365.5 183.1,366.2 183.8,366.1 184.6,366.6 185.3,366.9 186.1,367.1 186.8,366.6 187.6,366.8 188.3,366.9 189.1,366.6 189.8,366.5" fill="none" stroke="#3a923a" stroke-width="1.05" stroke-linejoin="round"/>
<polyline points="95.0,400.8 95.7,401.0 96.5,400.5 97.2,400.7 98.0,400.3 98.7,400.2 99.5,400.1 100.2,400.9 101.0,401.1 101.7,401.4 102.5,401.4 103.3,401.3 104.0,401.3 104.8,402.1 105.5,401.9 106.3,402.1 107.0,402.5 107.7,402.8 108.4,403.2 109.1,403.3 109.5,404.1 109.8,404.9 110.2,405.7 110.6,406.5 110.7,405.6 110.8,404.8 110.8,403.9 110.9,403.0 111.0,402.1 111.1,401.2 111.2,400.4 111.3,399.5 111.3,398.6 111.4,397.8 111.5,396.9 111.6,396.0 111.7,395.1 111.7,394.3 111.8,393.4 111.8,392.5 111.9,391.7 111.9,390.8 112.0,389.9 112.1,389.1 112.1,388.2 112.2,387.3 112.2,386.5 112.3,385.6 112.5,384.9 112.8,384.1 113.0,383.4 113.3,382.7 114.0,382.6 114.8,381.8 115.0,381.0 115.2,380.2 115.4,379.4 115.6,378.6 115.8,377.8 116.0,377.0 116.1,376.1 116.2,375.3 116.3,374.4 116.4,373.5 116.5,372.7 116.5,371.8 116.6,370.9 116.7,370.1 116.8,369.2 116.9,368.3 117.0,367.5 117.1,366.6 117.4,365.8 117.7,365.1 118.0,364.3 118.3,363.6 118.6,362.8 119.2,362.9 119.9,362.6 120.5,362.2 121.2,362.2 122.0,362.2 122.7,362.3 123.4,361.8 124.2,361.1 125.0,361.2 125.8,360.9 126.3,361.5 126.7,362.2 127.2,362.8 127.5,363.6 127.7,364.3 128.0,365.1 128.2,365.8 128.5,366.6 128.8,367.4 129.1,368.1 129.4,368.9 129.7,369.6 130.0,370.4 130.4,371.1 130.8,371.7 131.2,372.4 131.7,373.1 132.1,373.8 132.5,374.4 132.9,375.1 133.3,375.9 133.8,376.7 134.2,377.4 134.6,378.2 135.0,379.0 135.5,379.8 135.9,380.6 136.3,381.4 136.7,382.1 137.2,382.9 137.6,383.7 138.2,384.7 138.8,384.9 139.4,385.0 140.0,386.4 140.6,386.3 141.2,387.3 141.8,387.7 142.4,388.4 143.1,389.2 143.7,389.2 144.4,389.9 145.1,390.5 145.8,391.5 146.4,391.7 147.1,392.2 147.8,392.4 148.5,393.0 149.2,393.3 149.8,393.8 150.5,393.8 151.2,394.7 151.9,395.1 152.6,395.9 153.4,396.1 154.1,396.0 154.8,396.6 155.5,397.2 156.3,397.2 157.0,397.9 157.8,398.2 158.6,398.3 159.4,399.2 160.2,399.4 160.9,399.5 161.7,399.6 162.5,399.8 163.3,400.6 164.1,401.0 164.9,401.2 165.7,401.0 166.6,401.3 167.4,401.9 168.2,402.5 169.0,402.5 169.8,402.2 170.7,403.1 171.5,403.1 172.4,402.7 173.2,403.3 174.1,403.2 174.9,403.2 175.8,404.1 176.6,403.9 177.4,404.2 178.2,404.3 179.0,404.3 179.9,404.5 180.7,405.0 181.5,405.0 182.3,405.0 183.0,405.5 183.7,406.0 184.4,405.7 185.1,406.3 185.7,405.7 186.4,405.8 187.0,405.0 187.7,405.3 188.4,405.9 189.1,405.9 189.8,406.3" fill="none" stroke="#3c3cb4" stroke-width="1.05" stroke-linejoin="round"/>
<rect x="108.3" y="372.7" width="3.6" height="4.8" fill="#d6d6e6" stroke="#7c7c9c" stroke-width="0.6"/>
<rect x="109.2" y="373.7" width="1.7" height="2.6" fill="#6e6e96"/>
<rect x="123.5" y="322.9" width="3.6" height="4.8" fill="#d6d6e6" stroke="#7c7c9c" stroke-width="0.6"/>
<rect x="124.4" y="323.9" width="1.7" height="2.6" fill="#6e6e96"/>
<rect x="108.6" y="406.0" width="3.6" height="4.8" fill="#d6d6e6" stroke="#7c7c9c" stroke-width="0.6"/>
<rect x="109.5" y="407.0" width="1.7" height="2.6" fill="#6e6e96"/>
<rect x="123.5" y="354.3" width="3.6" height="4.8" fill="#d6d6e6" stroke="#7c7c9c" stroke-width="0.6"/>
<rect x="124.4" y="355.3" width="1.7" height="2.6" fill="#6e6e96"/>
<text x="95.8" y="443.9" font-size="4.3" font-weight="bold" fill="#62629a" text-anchor="middle">0</text>
<text x="116.7" y="443.9" font-size="4.3" font-weight="bold" fill="#62629a" text-anchor="middle">50</text>
<text x="137.6" y="443.9" font-size="4.3" font-weight="bold" fill="#62629a" text-anchor="middle">100</text>
<text x="159.5" y="443.9" font-size="4.3" font-weight="bold" fill="#62629a" text-anchor="middle">150</text>
<text x="180.8" y="443.9" font-size="4.3" font-weight="bold" fill="#62629a" text-anchor="middle">200</text>
<text x="191.0" y="443.9" font-size="4.3" font-weight="bold" fill="#62629a" text-anchor="middle">ms</text>
<rect x="213.7" y="324.5" width="98.8" height="113.0" fill="none" stroke="#b0b0e2" stroke-width="1.3"/>
<rect x="212.3" y="324.5" width="2.5" height="113.0" fill="#9090e2"/>
<line x1="236.5" y1="324.5" x2="236.5" y2="437.5" stroke="#8c8cca" stroke-width="1.0"/>
<line x1="258.5" y1="324.5" x2="258.5" y2="437.5" stroke="#8c8cca" stroke-width="1.0"/>
<line x1="280.5" y1="324.5" x2="280.5" y2="437.5" stroke="#8c8cca" stroke-width="1.0"/>
<line x1="302.5" y1="324.5" x2="302.5" y2="437.5" stroke="#8c8cca" stroke-width="1.0"/>
<line x1="213.7" y1="361.5" x2="312.5" y2="361.5" stroke="#b4b4b4" stroke-width="1.6"/>
<path d="M211.7,361.5 V350.5" stroke="#5a5aa8" stroke-width="0.8" fill="none"/>
<text x="210.5" y="356.1" font-size="4.3" font-weight="bold" fill="#5a5aa8" text-anchor="end">200 uV</text>
<line x1="213.7" y1="399.5" x2="312.5" y2="399.5" stroke="#6c6c6c" stroke-width="1"/>
<path d="M211.7,399.5 V388.5" stroke="#5a5aa8" stroke-width="0.8" fill="none"/>
<text x="210.5" y="394.1" font-size="4.3" font-weight="bold" fill="#5a5aa8" text-anchor="end">200 uV</text>
<text x="206.4" y="362.0" font-size="3.9" font-weight="bold" fill="#52a052" text-anchor="end">RE</text>
<text x="206.4" y="399.9" font-size="3.9" font-weight="bold" fill="#4848c0" text-anchor="end">LE</text>
<polyline points="213.9,361.4 214.7,361.2 215.4,361.4 216.2,361.4 216.9,360.8 217.7,360.9 218.5,360.6 219.2,360.8 220.0,360.9 220.7,361.4 221.5,361.4 222.3,361.9 223.0,361.7 223.8,361.8 224.5,361.9 225.3,362.2 226.1,362.3 226.8,362.8 227.6,362.4 228.3,362.9 229.1,363.3 229.7,363.9 230.3,364.2 231.0,364.7 231.6,365.2 232.0,365.7 232.5,365.7 232.9,366.6 233.1,365.8 233.2,365.0 233.4,364.2 233.6,363.4 233.7,362.6 233.9,361.8 234.1,361.0 234.2,360.2 234.4,359.5 234.5,358.7 234.7,357.9 234.8,357.1 235.1,356.3 235.5,355.4 235.8,354.6 236.4,354.2 237.1,353.9 237.7,354.2 238.1,353.4 238.5,352.7 238.8,351.9 239.2,351.2 239.6,350.4 239.9,349.6 240.1,348.9 240.4,348.1 240.6,347.4 240.9,346.6 241.7,345.9 242.4,345.7 243.0,345.9 243.7,346.5 244.3,346.6 244.9,345.7 245.6,345.0 246.2,344.7 246.8,344.2 247.4,343.5 247.9,343.4 248.5,342.7 249.1,341.9 249.8,342.8 250.5,342.4 251.2,343.3 251.9,343.8 252.6,344.5 253.4,344.4 254.1,345.3 254.8,345.7 255.5,345.2 256.2,345.3 256.9,344.8 257.6,345.1 258.3,345.7 259.1,345.7 259.8,346.0 260.5,346.6 261.2,346.7 261.9,347.4 262.6,348.3 263.3,348.5 264.1,349.0 264.8,348.9 265.6,349.3 266.3,350.3 267.1,350.4 267.8,350.9 268.5,351.6 269.2,351.3 269.8,351.9 270.5,352.1 271.2,352.8 271.9,353.3 272.6,353.5 273.4,354.1 274.1,353.8 274.8,354.8 275.5,354.5 276.3,354.7 277.0,355.2 277.5,356.0 278.0,356.7 278.5,356.9 279.0,357.1 279.5,358.0 280.3,358.5 281.1,358.4 281.9,358.8 282.7,358.9 283.5,358.9 284.2,359.8 285.0,359.4 285.8,359.9 286.6,360.2 287.4,359.9 288.2,361.0 289.0,360.8 289.9,360.8 290.7,361.4 291.6,361.4 292.5,361.7 293.3,362.0 294.2,361.5 295.0,362.4 295.9,362.2 296.8,362.0 297.6,362.5 298.5,362.7 299.4,362.5 300.2,362.8 301.1,362.8 302.0,363.7 302.8,364.0 303.7,363.6 304.5,364.2 305.4,364.4 306.3,364.4 307.1,364.3 308.0,364.6 308.8,365.0 309.6,364.7 310.3,364.9 311.1,365.3 311.9,365.5" fill="none" stroke="#3a923a" stroke-width="1.05" stroke-linejoin="round"/>
<polyline points="213.9,398.9 214.7,399.3 215.5,399.3 216.3,398.7 217.2,398.8 218.0,399.1 218.8,399.1 219.6,398.9 220.4,398.8 221.2,399.1 222.0,399.6 222.9,399.1 223.7,399.1 224.5,400.0 225.3,399.8 226.1,400.1 226.8,400.1 227.6,400.7 228.3,401.1 229.1,401.4 229.7,401.5 230.3,402.8 231.0,403.4 231.6,403.7 232.0,404.3 232.5,404.9 232.9,405.5 233.0,404.7 233.1,403.8 233.2,403.0 233.3,402.1 233.5,401.3 233.6,400.4 233.7,399.6 233.8,398.7 233.9,397.9 234.0,397.1 234.1,396.2 234.2,395.4 234.3,394.5 234.4,393.7 234.5,392.8 234.6,392.0 234.7,391.1 234.8,390.3 235.1,389.6 235.3,388.9 235.6,388.2 235.8,387.5 236.1,388.1 236.4,388.8 236.7,389.4 237.0,388.6 237.3,387.9 237.6,387.1 237.9,386.4 238.2,385.6 238.4,384.8 238.7,384.0 238.9,383.2 239.1,382.4 239.4,381.6 239.6,380.8 240.2,380.5 240.9,379.8 241.5,379.3 242.0,379.9 242.4,380.6 242.9,381.2 243.4,381.8 244.0,380.8 244.7,380.6 245.3,379.9 245.9,379.1 246.4,378.5 247.0,378.4 247.5,377.0 248.1,376.7 248.7,377.1 249.3,377.9 249.8,377.6 250.4,378.1 251.0,378.9 251.6,378.9 252.1,379.5 252.7,380.7 253.2,380.4 253.8,381.2 254.5,381.2 255.2,382.2 256.0,382.4 256.7,382.4 257.4,383.0 258.1,383.8 258.8,383.7 259.5,384.6 260.1,384.8 260.8,385.1 261.4,385.9 262.0,386.5 262.7,387.0 263.3,387.5 263.9,387.9 264.6,388.2 265.2,388.9 265.8,389.5 266.5,389.5 267.1,390.0 267.8,390.4 268.5,390.8 269.2,391.5 269.8,391.6 270.5,392.0 271.2,393.1 271.9,393.2 272.6,393.0 273.4,394.0 274.1,393.8 274.8,394.5 275.5,394.5 276.3,395.1 277.0,395.1 277.6,396.0 278.2,395.9 278.9,397.2 279.5,397.4 280.4,397.5 281.2,398.0 282.1,397.8 283.0,398.3 283.8,398.4 284.7,398.3 285.5,399.0 286.4,399.5 287.3,398.9 288.1,399.7 289.0,399.7 289.9,399.5 290.7,399.9 291.6,399.8 292.5,400.4 293.3,401.0 294.2,400.4 295.0,400.5 295.9,400.7 296.8,401.5 297.6,401.6 298.5,401.6 299.4,402.0 300.2,401.8 301.1,401.6 302.0,402.0 302.8,402.3 303.7,402.1 304.5,402.2 305.4,402.5 306.3,402.8 307.1,402.5 308.0,402.9 308.8,403.4 309.6,402.8 310.3,402.6 311.1,403.2 311.9,403.1" fill="none" stroke="#3c3cb4" stroke-width="1.05" stroke-linejoin="round"/>
<rect x="231.5" y="370.8" width="3.6" height="4.8" fill="#d6d6e6" stroke="#7c7c9c" stroke-width="0.6"/>
<rect x="232.4" y="371.8" width="1.7" height="2.6" fill="#6e6e96"/>
<rect x="247.8" y="334.3" width="3.6" height="4.8" fill="#d6d6e6" stroke="#7c7c9c" stroke-width="0.6"/>
<rect x="248.7" y="335.3" width="1.7" height="2.6" fill="#6e6e96"/>
<rect x="231.1" y="406.0" width="3.6" height="4.8" fill="#d6d6e6" stroke="#7c7c9c" stroke-width="0.6"/>
<rect x="232.0" y="407.0" width="1.7" height="2.6" fill="#6e6e96"/>
<rect x="247.3" y="368.6" width="3.6" height="4.8" fill="#d6d6e6" stroke="#7c7c9c" stroke-width="0.6"/>
<rect x="248.2" y="369.6" width="1.7" height="2.6" fill="#6e6e96"/>
<text x="214.5" y="441.9" font-size="4.3" font-weight="bold" fill="#62629a" text-anchor="middle">0</text>
<text x="236.7" y="441.9" font-size="4.3" font-weight="bold" fill="#62629a" text-anchor="middle">50</text>
<text x="258.6" y="441.9" font-size="4.3" font-weight="bold" fill="#62629a" text-anchor="middle">100</text>
<text x="280.4" y="441.9" font-size="4.3" font-weight="bold" fill="#62629a" text-anchor="middle">150</text>
<text x="302.6" y="441.9" font-size="4.3" font-weight="bold" fill="#62629a" text-anchor="middle">200</text>
<text x="313.0" y="441.9" font-size="4.3" font-weight="bold" fill="#62629a" text-anchor="middle">ms</text>
<rect x="335.6" y="326.5" width="95.9" height="112.0" fill="none" stroke="#b0b0e2" stroke-width="1.3"/>
<rect x="334.2" y="326.5" width="2.5" height="112.0" fill="#a8a8e0"/>
<line x1="357.5" y1="326.5" x2="357.5" y2="438.5" stroke="#8c8cca" stroke-width="1.0"/>
<line x1="378.5" y1="326.5" x2="378.5" y2="438.5" stroke="#8c8cca" stroke-width="1.0"/>
<line x1="399.5" y1="326.5" x2="399.5" y2="438.5" stroke="#8c8cca" stroke-width="1.0"/>
<line x1="421.5" y1="326.5" x2="421.5" y2="438.5" stroke="#8c8cca" stroke-width="1.0"/>
<line x1="335.6" y1="363.5" x2="431.5" y2="363.5" stroke="#6c6c6c" stroke-width="1"/>
<path d="M333.6,363.5 V352.5" stroke="#5a5aa8" stroke-width="0.8" fill="none"/>
<text x="332.4" y="358.1" font-size="4.3" font-weight="bold" fill="#5a5aa8" text-anchor="end">200 uV</text>
<line x1="335.6" y1="400.5" x2="431.5" y2="400.5" stroke="#6c6c6c" stroke-width="1"/>
<path d="M333.6,400.5 V389.5" stroke="#5a5aa8" stroke-width="0.8" fill="none"/>
<text x="332.4" y="395.1" font-size="4.3" font-weight="bold" fill="#5a5aa8" text-anchor="end">200 uV</text>
<text x="328.3" y="364.0" font-size="3.9" font-weight="bold" fill="#52a052" text-anchor="end">RE</text>
<text x="328.3" y="401.3" font-size="3.9" font-weight="bold" fill="#4848c0" text-anchor="end">LE</text>
<polyline points="335.6,364.0 336.5,364.2 337.4,364.0 338.2,364.2 339.1,364.1 340.0,364.3 340.9,363.9 341.7,364.7 342.6,364.4 343.4,364.1 344.1,364.4 344.9,365.1 345.6,364.4 346.4,364.9 347.0,365.8 347.7,365.9 348.3,366.8 348.4,365.9 348.5,365.1 348.6,364.2 348.7,363.3 348.8,362.5 348.8,361.6 348.9,360.8 349.0,359.9 349.1,359.0 349.2,358.2 349.3,357.3 349.4,356.5 349.5,355.6 349.6,354.8 349.8,354.0 349.9,353.2 350.0,352.4 350.1,351.5 350.2,350.7 350.7,350.0 351.2,349.3 351.9,349.4 352.5,348.8 352.6,348.0 352.8,347.1 352.9,346.3 353.1,345.5 353.2,344.6 353.3,343.8 353.5,342.9 353.6,342.1 353.8,341.3 354.0,340.5 354.2,339.7 354.4,338.8 354.6,338.0 354.8,337.2 355.0,336.4 355.3,335.7 355.6,335.0 356.0,334.3 356.3,333.6 356.9,332.9 357.4,332.2 358.2,332.6 358.9,333.3 359.7,333.6 360.3,334.4 360.9,334.6 361.4,335.2 362.0,335.8 362.6,336.4 363.1,337.0 363.5,337.7 364.0,338.3 364.5,338.9 364.9,339.6 365.4,340.2 365.9,340.8 366.4,341.5 366.9,342.1 367.3,342.7 367.8,343.4 368.3,344.0 369.1,344.2 369.8,344.5 370.6,345.5 371.3,345.3 372.1,345.9 372.7,346.1 373.4,346.5 374.0,347.0 374.6,347.9 375.3,348.2 375.9,348.8 376.7,348.8 377.4,349.2 378.2,350.2 378.9,350.5 379.7,350.7 380.5,351.5 381.3,351.5 382.0,352.2 382.8,351.9 383.6,352.4 384.4,353.1 385.2,353.8 386.0,353.9 386.8,354.2 387.6,354.7 388.4,355.0 389.2,355.4 390.0,356.1 390.8,355.9 391.5,356.6 392.3,357.1 393.1,357.7 393.9,357.7 394.7,358.0 395.4,357.9 396.2,358.5 396.9,359.1 397.7,359.7 398.5,359.2 399.2,359.6 400.0,360.2 400.8,360.2 401.6,360.7 402.5,360.2 403.3,360.4 404.1,360.5 404.9,360.2 405.7,360.6 406.5,360.8 407.4,360.7 408.2,361.2 409.0,360.8 409.8,361.0 410.6,360.3 411.4,360.3 412.3,360.8 413.1,360.2 413.9,360.5 414.7,360.2 415.5,360.6 416.3,360.9 417.1,360.8 418.0,361.0 418.8,360.8 419.6,361.6 420.4,361.4 421.2,361.5 422.0,362.0 422.8,361.6 423.7,361.7 424.5,362.1 425.3,361.6 426.1,362.1 426.9,362.2 427.7,361.9 428.5,362.6 429.2,362.1 430.0,362.2 430.8,362.7" fill="none" stroke="#3a923a" stroke-width="1.05" stroke-linejoin="round"/>
<polyline points="335.6,400.7 336.5,401.1 337.4,401.0 338.2,400.9 339.1,400.7 340.0,400.6 340.9,400.6 341.7,400.8 342.6,401.0 343.3,401.2 344.1,401.8 344.8,402.1 345.5,402.0 346.0,402.6 346.5,402.8 346.9,403.7 347.4,404.4 347.9,404.8 348.0,404.0 348.1,403.1 348.2,402.3 348.3,401.4 348.3,400.6 348.4,399.7 348.5,398.9 348.6,398.0 348.7,397.2 348.8,396.4 349.0,395.6 349.1,394.7 349.2,393.9 349.4,393.1 349.5,392.2 349.7,391.4 349.8,390.6 350.3,390.4 350.7,389.8 351.2,389.3 351.9,388.6 352.5,388.7 352.6,387.9 352.8,387.0 352.9,386.2 353.1,385.4 353.2,384.5 353.3,383.7 353.5,382.8 353.6,382.0 353.8,381.2 354.0,380.4 354.2,379.6 354.4,378.7 354.6,377.9 354.8,377.1 355.0,376.3 355.3,375.5 355.5,374.8 355.8,374.0 356.0,373.3 356.3,372.5 356.7,371.9 357.0,371.2 357.4,370.6 358.2,370.8 358.9,371.1 359.7,371.6 360.3,372.1 360.9,372.8 361.4,373.6 362.0,374.4 362.6,374.8 363.2,375.5 363.7,376.2 364.3,376.8 364.8,377.5 365.4,378.2 366.0,378.4 366.6,379.5 367.1,380.3 367.7,380.7 368.3,381.1 369.1,381.3 369.8,381.5 370.6,382.4 371.3,382.9 372.1,383.0 372.7,383.3 373.4,384.2 374.0,384.3 374.6,385.0 375.3,384.9 375.9,385.8 376.7,385.9 377.4,386.6 378.2,387.3 378.9,387.6 379.7,387.7 380.4,387.7 381.0,388.8 381.7,389.3 382.4,389.6 383.1,390.2 383.7,390.6 384.4,390.6 385.1,391.1 385.8,391.7 386.5,392.0 387.1,392.4 387.8,392.9 388.5,393.2 389.2,393.4 390.0,393.6 390.8,394.0 391.5,395.0 392.3,394.9 393.1,395.8 393.9,395.7 394.7,396.2 395.4,396.6 396.2,396.7 396.9,397.0 397.7,397.2 398.5,397.2 399.2,397.7 400.0,398.2 400.9,398.3 401.7,398.0 402.6,398.8 403.5,398.2 404.3,398.5 405.2,398.7 406.1,398.4 406.9,398.8 407.8,398.5 408.7,399.1 409.5,399.4 410.4,399.0 411.2,399.6 412.1,399.8 413.0,399.7 413.8,399.2 414.7,399.7 415.5,400.1 416.4,399.9 417.2,399.9 418.1,399.5 418.9,399.7 419.8,400.0 420.6,399.9 421.5,399.9 422.3,400.1 423.2,400.2 424.0,400.4 424.9,400.4 425.7,401.1 426.6,401.1 427.4,400.8 428.2,401.7 429.1,401.5 429.9,401.5 430.8,402.0" fill="none" stroke="#3c3cb4" stroke-width="1.05" stroke-linejoin="round"/>
<rect x="346.5" y="371.1" width="3.6" height="4.8" fill="#d6d6e6" stroke="#7c7c9c" stroke-width="0.6"/>
<rect x="347.4" y="372.1" width="1.7" height="2.6" fill="#6e6e96"/>
<rect x="355.6" y="324.5" width="3.6" height="4.8" fill="#d6d6e6" stroke="#7c7c9c" stroke-width="0.6"/>
<rect x="356.5" y="325.5" width="1.7" height="2.6" fill="#6e6e96"/>
<rect x="346.5" y="409.1" width="3.6" height="4.8" fill="#d6d6e6" stroke="#7c7c9c" stroke-width="0.6"/>
<rect x="347.4" y="410.1" width="1.7" height="2.6" fill="#6e6e96"/>
<rect x="355.6" y="363.5" width="3.6" height="4.8" fill="#d6d6e6" stroke="#7c7c9c" stroke-width="0.6"/>
<rect x="356.5" y="364.5" width="1.7" height="2.6" fill="#6e6e96"/>
<text x="336.4" y="442.9" font-size="4.3" font-weight="bold" fill="#62629a" text-anchor="middle">0</text>
<text x="357.5" y="442.9" font-size="4.3" font-weight="bold" fill="#62629a" text-anchor="middle">50</text>
<text x="378.6" y="442.9" font-size="4.3" font-weight="bold" fill="#62629a" text-anchor="middle">100</text>
<text x="399.4" y="442.9" font-size="4.3" font-weight="bold" fill="#62629a" text-anchor="middle">150</text>
<text x="421.3" y="442.9" font-size="4.3" font-weight="bold" fill="#62629a" text-anchor="middle">200</text>
<text x="432.0" y="442.9" font-size="4.3" font-weight="bold" fill="#62629a" text-anchor="middle">ms</text>
<rect x="454.2" y="327.5" width="95.3" height="112.0" fill="none" stroke="#b0b0e2" stroke-width="1.3"/>
<rect x="452.8" y="327.5" width="2.5" height="112.0" fill="#9c9ce0"/>
<line x1="476.5" y1="327.5" x2="476.5" y2="439.5" stroke="#8c8cca" stroke-width="1.0"/>
<line x1="497.5" y1="327.5" x2="497.5" y2="439.5" stroke="#8c8cca" stroke-width="1.0"/>
<line x1="518.5" y1="327.5" x2="518.5" y2="439.5" stroke="#8c8cca" stroke-width="1.0"/>
<line x1="539.5" y1="327.5" x2="539.5" y2="439.5" stroke="#8c8cca" stroke-width="1.0"/>
<line x1="454.2" y1="364.5" x2="549.5" y2="364.5" stroke="#6c6c6c" stroke-width="1"/>
<path d="M452.2,364.5 V353.5" stroke="#5a5aa8" stroke-width="0.8" fill="none"/>
<text x="451.0" y="359.1" font-size="4.3" font-weight="bold" fill="#5a5aa8" text-anchor="end">200 uV</text>
<line x1="454.2" y1="401.5" x2="549.5" y2="401.5" stroke="#6c6c6c" stroke-width="1"/>
<path d="M452.2,401.5 V390.5" stroke="#5a5aa8" stroke-width="0.8" fill="none"/>
<text x="451.0" y="396.1" font-size="4.3" font-weight="bold" fill="#5a5aa8" text-anchor="end">200 uV</text>
<text x="446.9" y="364.9" font-size="3.9" font-weight="bold" fill="#52a052" text-anchor="end">RE</text>
<text x="446.9" y="402.0" font-size="3.9" font-weight="bold" fill="#4848c0" text-anchor="end">LE</text>
<polyline points="454.2,364.7 455.0,365.2 455.7,365.0 456.5,364.5 457.3,364.9 458.1,365.5 458.8,365.0 459.6,365.2 460.4,365.3 461.1,365.6 461.9,366.2 462.6,366.1 463.4,366.6 464.1,367.1 464.9,366.9 465.6,367.2 466.3,367.5 466.6,368.2 467.0,368.9 467.3,369.7 467.6,370.4 467.7,369.5 467.8,368.6 467.8,367.7 467.9,366.9 468.0,366.0 468.1,365.1 468.1,364.2 468.2,363.3 468.3,362.4 468.4,361.5 468.5,360.7 468.5,359.8 468.6,358.9 468.7,358.0 468.8,357.1 468.8,356.3 468.9,355.4 469.0,354.5 469.1,353.7 469.1,352.8 469.2,352.0 469.3,351.1 469.4,350.2 469.4,349.4 469.5,348.5 469.8,347.9 470.1,347.2 470.4,346.6 471.0,346.5 471.6,345.7 471.8,344.9 471.9,344.1 472.1,343.3 472.2,342.5 472.4,341.7 472.5,340.9 472.6,340.1 472.7,339.3 472.8,338.5 473.0,337.6 473.1,336.8 473.2,336.0 473.3,335.2 473.5,334.4 473.7,333.6 473.9,332.9 474.0,332.1 474.2,331.3 474.4,330.5 474.8,329.8 475.1,329.1 475.4,328.3 475.8,327.6 476.4,327.3 477.1,327.5 477.7,327.2 478.3,327.4 479.0,327.8 479.6,328.0 480.2,328.4 480.9,328.8 481.5,328.6 482.1,329.4 482.8,329.8 483.4,330.5 483.9,331.2 484.4,331.9 484.8,332.6 485.3,333.3 485.7,334.1 486.1,334.8 486.4,335.6 486.8,336.3 487.2,337.1 487.7,337.7 488.1,338.4 488.6,339.0 489.1,339.6 489.5,340.3 490.0,340.9 490.5,341.6 491.1,342.3 491.6,343.0 492.2,343.6 492.7,344.3 493.3,345.0 493.8,345.7 494.3,346.4 494.9,347.0 495.4,347.7 496.0,348.4 496.5,349.1 497.1,349.7 497.6,350.4 498.3,350.9 499.0,351.8 499.7,351.6 500.3,352.3 501.0,352.8 501.7,353.9 502.4,354.2 503.1,354.3 503.7,355.3 504.4,355.1 505.1,355.9 505.8,356.0 506.4,356.8 507.1,357.1 507.8,357.9 508.5,357.8 509.2,358.6 509.8,358.4 510.5,358.9 511.2,359.8 511.9,359.9 512.6,360.5 513.3,360.9 514.0,361.6 514.7,361.8 515.5,362.4 516.3,362.2 517.0,362.4 517.8,362.7 518.6,363.0 519.4,363.3 520.2,363.3 521.0,363.4 521.8,363.7 522.5,364.3 523.3,363.8 524.1,364.1 524.9,364.6 525.7,364.5 526.5,365.0 527.3,364.5 528.0,364.9 528.8,365.6 529.6,365.1 530.4,365.4 531.2,365.1 532.0,365.9 532.9,366.0 533.7,366.0 534.5,365.6 535.3,365.6 536.1,365.7 537.0,365.9 537.8,366.5 538.6,366.2 539.4,366.1 540.3,366.6 541.1,366.4 541.9,366.6 542.8,366.6 543.6,367.3 544.4,367.0 545.2,367.1 546.1,367.4 546.9,367.9 547.7,367.6 548.6,368.1 549.4,367.9" fill="none" stroke="#3a923a" stroke-width="1.05" stroke-linejoin="round"/>
<polyline points="454.2,401.4 455.0,401.7 455.7,401.5 456.5,401.4 457.3,401.4 458.1,401.4 458.8,401.4 459.6,401.7 460.2,402.5 460.9,403.1 461.5,402.8 462.1,403.5 462.8,403.7 463.4,404.6 464.1,404.7 464.9,405.3 465.6,406.1 466.3,406.5 466.6,407.2 467.0,407.9 467.3,408.7 467.6,409.4 467.7,408.5 467.7,407.6 467.8,406.7 467.9,405.8 468.0,404.9 468.0,404.0 468.1,403.1 468.2,402.3 468.3,401.4 468.3,400.5 468.4,399.6 468.5,398.7 468.6,397.8 468.6,396.9 468.7,396.0 468.8,395.1 468.8,394.2 468.9,393.4 468.9,392.5 469.0,391.6 469.1,390.7 469.1,389.9 469.2,389.0 469.3,388.1 469.3,387.2 469.4,386.4 469.4,385.5 469.5,384.6 470.0,384.0 470.5,383.3 471.0,382.7 471.4,382.1 471.9,381.4 472.3,380.8 472.4,380.0 472.6,379.1 472.7,378.3 472.8,377.4 473.0,376.6 473.1,375.7 473.2,374.9 473.4,374.0 473.5,373.2 473.6,372.3 473.7,371.5 473.9,370.6 474.0,369.7 474.1,368.9 474.2,368.0 474.3,367.2 474.4,366.3 474.6,365.4 474.7,364.6 474.8,363.7 475.2,362.9 475.6,362.1 475.9,361.3 476.3,360.5 477.1,360.7 477.8,361.0 478.6,360.9 479.3,360.9 480.1,361.1 480.8,361.5 481.5,361.4 482.1,362.0 482.8,362.3 483.4,362.8 483.7,363.6 484.0,364.4 484.4,365.1 484.7,365.9 485.0,366.7 485.3,367.5 485.6,368.3 485.9,369.1 486.2,369.9 486.6,370.7 486.9,371.5 487.2,372.3 487.6,373.0 488.0,373.6 488.4,374.3 488.8,375.0 489.2,375.7 489.6,376.3 490.0,377.0 490.6,377.3 491.3,378.3 491.9,378.8 492.5,380.0 493.2,380.6 493.8,380.8 494.3,381.5 494.9,382.2 495.4,382.9 496.0,383.5 496.5,384.2 497.1,384.9 497.6,385.6 498.3,386.1 499.0,386.5 499.7,386.4 500.3,386.8 501.0,387.7 501.7,387.6 502.4,388.4 503.1,388.8 503.7,389.0 504.4,390.0 505.1,390.7 505.8,390.7 506.4,391.3 507.1,391.9 507.7,392.3 508.3,393.0 508.9,393.6 509.5,393.8 510.1,394.4 510.7,394.8 511.3,395.3 511.9,396.0 512.4,396.1 512.8,396.6 513.3,397.1 513.8,398.0 514.4,397.9 515.1,397.3 515.7,397.0 516.3,397.4 516.9,397.8 517.4,398.2 518.0,399.4 518.6,399.5 519.3,399.7 520.0,400.3 520.8,400.7 521.5,400.4 522.2,401.1 523.0,400.9 523.8,401.5 524.7,401.2 525.5,401.7 526.3,402.0 527.1,402.0 527.9,402.6 528.8,402.6 529.6,402.3 530.4,402.7 531.2,402.6 532.0,403.5 532.9,403.4 533.7,403.6 534.5,403.2 535.3,404.2 536.1,403.4 537.0,403.9 537.8,404.4 538.6,404.4 539.4,404.0 540.3,404.7 541.1,404.3 541.9,404.5 542.8,404.4 543.6,404.5 544.4,405.1 545.2,405.0 546.1,405.1 546.9,404.9 547.7,404.9 548.6,405.1 549.4,405.5" fill="none" stroke="#3c3cb4" stroke-width="1.05" stroke-linejoin="round"/>
<rect x="465.8" y="373.7" width="3.6" height="4.8" fill="#d6d6e6" stroke="#7c7c9c" stroke-width="0.6"/>
<rect x="466.7" y="374.7" width="1.7" height="2.6" fill="#6e6e96"/>
<rect x="466.0" y="412.1" width="3.6" height="4.8" fill="#d6d6e6" stroke="#7c7c9c" stroke-width="0.6"/>
<rect x="466.9" y="413.1" width="1.7" height="2.6" fill="#6e6e96"/>
<rect x="475.9" y="352.4" width="3.6" height="4.8" fill="#d6d6e6" stroke="#7c7c9c" stroke-width="0.6"/>
<rect x="476.8" y="353.4" width="1.7" height="2.6" fill="#6e6e96"/>
<text x="455.0" y="443.9" font-size="4.3" font-weight="bold" fill="#62629a" text-anchor="middle">0</text>
<text x="476.2" y="443.9" font-size="4.3" font-weight="bold" fill="#62629a" text-anchor="middle">50</text>
<text x="497.6" y="443.9" font-size="4.3" font-weight="bold" fill="#62629a" text-anchor="middle">100</text>
<text x="518.6" y="443.9" font-size="4.3" font-weight="bold" fill="#62629a" text-anchor="middle">150</text>
<text x="539.5" y="443.9" font-size="4.3" font-weight="bold" fill="#62629a" text-anchor="middle">200</text>
<text x="550.0" y="443.9" font-size="4.3" font-weight="bold" fill="#62629a" text-anchor="middle">ms</text>
<text x="580.0" y="102.9" font-size="22" fill="#000" stroke="#000" stroke-width="0.35">B</text>
<text x="664" y="97.1" font-size="13" fill="#2a2a2a" textLength="47" lengthAdjust="spacingAndGlyphs">A-wave</text>
<rect x="622" y="164.3" width="28.3" height="67.2" fill="#f5167f"/>
<rect x="662.3" y="199" width="27.6" height="32.5" fill="#ff8200"/>
<rect x="702.3" y="181.1" width="27.4" height="50.4" fill="#808000"/>
<rect x="742" y="179.5" width="27.6" height="52.0" fill="#008000"/>
<path d="M636.1,157.8 V169.9 M629.5,157.8 H642.7 M629.5,169.9 H642.7" stroke="#111" stroke-width="1.9" fill="none"/>
<path d="M675.8,194.5 V204.2 M669.2,194.5 H682.4 M669.2,204.2 H682.4" stroke="#111" stroke-width="1.9" fill="none"/>
<path d="M715.7,179.2 V184.6 M709.1,179.2 H722.3 M709.1,184.6 H722.3" stroke="#111" stroke-width="1.9" fill="none"/>
<path d="M755.6,176.9 V183 M749.0,176.9 H762.2 M749.0,183 H762.2" stroke="#111" stroke-width="1.9" fill="none"/>
<path d="M615.9,140.8 V231.5 H775.6" stroke="#5a5a8e" stroke-width="1.5" fill="none"/>
<path d="M612.6,141.1 H615.9" stroke="#5a5a8e" stroke-width="1.2"/>
<text x="612" y="143.7" font-size="7.6" font-weight="bold" fill="#1a1a1a" stroke="#1a1a1a" stroke-width="0.2" text-anchor="end">400</text>
<path d="M612.6,163.9 H615.9" stroke="#5a5a8e" stroke-width="1.2"/>
<text x="612" y="166.5" font-size="7.6" font-weight="bold" fill="#1a1a1a" stroke="#1a1a1a" stroke-width="0.2" text-anchor="end">300</text>
<path d="M612.6,186.4 H615.9" stroke="#5a5a8e" stroke-width="1.2"/>
<text x="612" y="189.0" font-size="7.6" font-weight="bold" fill="#1a1a1a" stroke="#1a1a1a" stroke-width="0.2" text-anchor="end">200</text>
<path d="M612.6,208.9 H615.9" stroke="#5a5a8e" stroke-width="1.2"/>
<text x="612" y="211.5" font-size="7.6" font-weight="bold" fill="#1a1a1a" stroke="#1a1a1a" stroke-width="0.2" text-anchor="end">100</text>
<path d="M612.6,231.4 H615.9" stroke="#5a5a8e" stroke-width="1.2"/>
<text x="612" y="234.0" font-size="7.6" font-weight="bold" fill="#1a1a1a" stroke="#1a1a1a" stroke-width="0.2" text-anchor="end">0</text>
<path d="M636.1,231.5 V234.5" stroke="#4a4a84" stroke-width="1.1"/>
<path d="M675.8,231.5 V234.5" stroke="#4a4a84" stroke-width="1.1"/>
<path d="M715.7,231.5 V234.5" stroke="#4a4a84" stroke-width="1.1"/>
<path d="M755.6,231.5 V234.5" stroke="#4a4a84" stroke-width="1.1"/>
<path d="M636.5,149.2 V143.5 H671.1 V149.2" stroke="#4a4a84" stroke-width="1.5" fill="none"/>
<path d="M671.1,139.6 V127.6 H717.2 V152.9" stroke="#4a4a84" stroke-width="1.5" fill="none"/>
<path d="M671.1,123.3 V111.2 H754.1 V151.7" stroke="#4a4a84" stroke-width="1.5" fill="none"/>
<text x="654.4" y="144.0" font-size="12" font-weight="bold" fill="#1a1a1a" text-anchor="middle" letter-spacing="1.3">***</text>
<text x="692.7" y="130.5" font-size="12" font-weight="bold" fill="#1a1a1a" text-anchor="middle" letter-spacing="1.3">*</text>
<text x="712" y="112" font-size="12" font-weight="bold" fill="#1a1a1a" text-anchor="middle" letter-spacing="1.3">*</text>
<text transform="translate(593.5,185.2) rotate(-90)" font-size="8.6" font-weight="bold" fill="#111" stroke="#111" stroke-width="0.2" text-anchor="middle" textLength="60" lengthAdjust="spacingAndGlyphs">Amplitude(uV)</text>
<text transform="translate(638.7,241.1) rotate(-39)" font-size="9.7" font-weight="bold" fill="#111" stroke="#111" stroke-width="0.2" text-anchor="end">Control</text>
<text transform="translate(678.8,240.8) rotate(-39)" font-size="9.7" font-weight="bold" fill="#111" stroke="#111" stroke-width="0.2" text-anchor="end">Lt+Vehicle</text>
<text transform="translate(716.8,242.5) rotate(-39)" font-size="9.7" font-weight="bold" fill="#111" stroke="#111" stroke-width="0.2" text-anchor="end">Lt+RAPA</text>
<text transform="translate(758.3,241.1) rotate(-39)" font-size="9.7" font-weight="bold" fill="#111" stroke="#111" stroke-width="0.2" text-anchor="end">Lt+3AB</text>
<text x="578.6" y="299.7" font-size="22" fill="#000" stroke="#000" stroke-width="0.35">C</text>
<text x="662.6" y="298.9" font-size="13" fill="#2a2a2a" textLength="47" lengthAdjust="spacingAndGlyphs">B-wave</text>
<rect x="622" y="375.7" width="28.3" height="57.2" fill="#f5167f"/>
<rect x="662.3" y="406.2" width="27.6" height="26.7" fill="#ff8200"/>
<rect x="702.3" y="385.7" width="27.4" height="47.2" fill="#808000"/>
<rect x="742" y="382.5" width="27.6" height="50.4" fill="#008000"/>
<path d="M636.1,372.2 V379.9 M629.5,372.2 H642.7 M629.5,379.9 H642.7" stroke="#111" stroke-width="1.9" fill="none"/>
<path d="M675.8,403.9 V409 M669.2,403.9 H682.4 M669.2,409 H682.4" stroke="#111" stroke-width="1.9" fill="none"/>
<path d="M715.7,382.3 V389.9 M709.1,382.3 H722.3 M709.1,389.9 H722.3" stroke="#111" stroke-width="1.9" fill="none"/>
<path d="M755.6,379.2 V386.4 M749.0,379.2 H762.2 M749.0,386.4 H762.2" stroke="#111" stroke-width="1.9" fill="none"/>
<path d="M615.9,342.8 V432.9 H775.6" stroke="#5a5a8e" stroke-width="1.5" fill="none"/>
<path d="M612.6,342.8 H615.9" stroke="#5a5a8e" stroke-width="1.2"/>
<text x="612" y="345.4" font-size="7.6" font-weight="bold" fill="#1a1a1a" stroke="#1a1a1a" stroke-width="0.2" text-anchor="end">1500</text>
<path d="M612.6,372.9 H615.9" stroke="#5a5a8e" stroke-width="1.2"/>
<text x="612" y="375.5" font-size="7.6" font-weight="bold" fill="#1a1a1a" stroke="#1a1a1a" stroke-width="0.2" text-anchor="end">1000</text>
<path d="M612.6,403.1 H615.9" stroke="#5a5a8e" stroke-width="1.2"/>
<text x="612" y="405.7" font-size="7.6" font-weight="bold" fill="#1a1a1a" stroke="#1a1a1a" stroke-width="0.2" text-anchor="end">500</text>
<path d="M612.6,432.8 H615.9" stroke="#5a5a8e" stroke-width="1.2"/>
<text x="612" y="435.4" font-size="7.6" font-weight="bold" fill="#1a1a1a" stroke="#1a1a1a" stroke-width="0.2" text-anchor="end">0</text>
<path d="M636.1,432.9 V435.9" stroke="#4a4a84" stroke-width="1.1"/>
<path d="M675.8,432.9 V435.9" stroke="#4a4a84" stroke-width="1.1"/>
<path d="M715.7,432.9 V435.9" stroke="#4a4a84" stroke-width="1.1"/>
<path d="M755.6,432.9 V435.9" stroke="#4a4a84" stroke-width="1.1"/>
<path d="M636.5,350.6 V345 H671.1 V350.8" stroke="#4a4a84" stroke-width="1.5" fill="none"/>
<path d="M671.1,341.2 V329.3 H717.1 V354.3" stroke="#4a4a84" stroke-width="1.5" fill="none"/>
<path d="M671.1,325.4 V312.9 H754.1 V353.4" stroke="#4a4a84" stroke-width="1.5" fill="none"/>
<text x="653.2" y="346.4" font-size="12" font-weight="bold" fill="#1a1a1a" text-anchor="middle" letter-spacing="1.3">***</text>
<text x="696" y="331.7" font-size="12" font-weight="bold" fill="#1a1a1a" text-anchor="middle" letter-spacing="1.3">**</text>
<text x="718" y="314" font-size="12" font-weight="bold" fill="#1a1a1a" text-anchor="middle" letter-spacing="1.3">***</text>
<text transform="translate(592.2,386.5) rotate(-90)" font-size="8.6" font-weight="bold" fill="#111" stroke="#111" stroke-width="0.2" text-anchor="middle" textLength="60" lengthAdjust="spacingAndGlyphs">Amplitude(uV)</text>
<text transform="translate(638.7,442.4) rotate(-39)" font-size="9.7" font-weight="bold" fill="#111" stroke="#111" stroke-width="0.2" text-anchor="end">Control</text>
<text transform="translate(678.8,442.2) rotate(-39)" font-size="9.7" font-weight="bold" fill="#111" stroke="#111" stroke-width="0.2" text-anchor="end">Lt+Vehicle</text>
<text transform="translate(716.8,443.9) rotate(-39)" font-size="9.7" font-weight="bold" fill="#111" stroke="#111" stroke-width="0.2" text-anchor="end">Lt+RAPA</text>
<text transform="translate(758.3,442.4) rotate(-39)" font-size="9.7" font-weight="bold" fill="#111" stroke="#111" stroke-width="0.2" text-anchor="end">Lt+3AB</text>
</svg>
</body></html>
